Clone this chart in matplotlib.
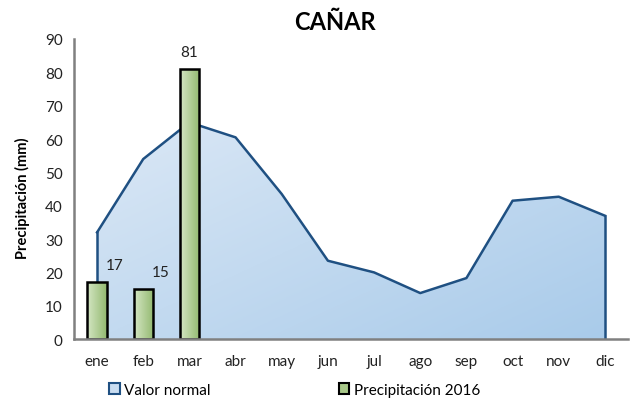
import numpy as np
import matplotlib.pyplot as plt
from matplotlib.patches import Patch, Polygon, Rectangle
from matplotlib.colors import LinearSegmentedColormap

plt.rcParams['font.family'] = ['Lato', 'DejaVu Sans']

# data
meses = ['ene', 'feb', 'mar', 'abr', 'may', 'jun', 'jul', 'ago', 'sep', 'oct', 'nov', 'dic']
valor_normal = [32, 54, 65, 60.5, 43.5, 23.5, 20, 13.8, 18.3, 41.5, 42.7, 37]
precip_2016 = [17, 15, 81]

fig = plt.figure(figsize=(6.35, 4.02), dpi=100)
ax = fig.add_axes([0.1165, 0.154, 0.8725, 0.7465])

x = np.arange(len(meses))

# area with gradient fill
verts = [(x[0], 0)] + list(zip(x, valor_normal)) + [(x[-1], 0)]
poly = Polygon(verts, closed=True, facecolor='none', edgecolor='none')
ax.add_patch(poly)
blues = LinearSegmentedColormap.from_list('b', ['#dde9f6', '#a9cbea'])
gx, gy = np.meshgrid(np.linspace(0, 1, 200), np.linspace(0, 1, 200))
grad = gx * 0.5 + gy * 0.5
im = ax.imshow(grad, cmap=blues, extent=[x[0], x[-1], 0, 70], origin='upper',
               aspect='auto', zorder=1)
im.set_clip_path(poly)
ax.plot(x, valor_normal, color='#1f5082', lw=1.8, zorder=2)
ax.plot([x[0], x[0]], [0, valor_normal[0]], color='#1f5082', lw=1.8, zorder=2)
ax.plot([x[-1], x[-1]], [0, valor_normal[-1]], color='#1f5082', lw=1.8, zorder=2)

# bars with horizontal gradient
greens = LinearSegmentedColormap.from_list('g', ['#d4e6c3', '#93b970'])
w = 0.42
for i, v in enumerate(precip_2016):
    r = Rectangle((x[i] - w / 2, 0), w, v, facecolor='none', edgecolor='black', lw=1.8, zorder=4)
    ax.add_patch(r)
    bim = ax.imshow(np.linspace(0, 1, 50).reshape(1, -1), cmap=greens,
                    extent=[x[i] - w / 2, x[i] + w / 2, 0, v], aspect='auto', zorder=3)
    bim.set_clip_path(r)
    if i < 2:
        ax.text(x[i] + 0.38, v + 3, str(v), ha='center', va='bottom', fontsize=11, color='#222222')
    else:
        ax.text(x[i], v + 3, str(v), ha='center', va='bottom', fontsize=11, color='#222222')

ax.set_xlim(-0.5, 11.5)
ax.set_ylim(0, 90)
ax.set_yticks(range(0, 91, 10))
ax.set_xticks(x)
ax.set_xticklabels(meses)
ax.tick_params(axis='x', length=0, pad=11, labelsize=11, colors='#222222')
ax.tick_params(axis='y', length=0, pad=8, labelsize=11, colors='#222222')
for s in ['top', 'right']:
    ax.spines[s].set_visible(False)
for s in ['left', 'bottom']:
    ax.spines[s].set_color('#808080')
    ax.spines[s].set_linewidth(1.8)
ax.spines['bottom'].set_zorder(5)

fig.text(0.035, 0.507, 'Precipitación (mm)', rotation=90, ha='center', va='center',
         fontsize=10.5, fontweight='bold')
fig.text(0.527, 0.945, 'CAÑAR', ha='center', va='center', fontsize=17, fontweight='bold')

handles = [Patch(facecolor='#c9ddf1', edgecolor='#1f5082', lw=1.5, label='Valor normal'),
           Patch(facecolor='#a9c98a', edgecolor='black', lw=1.5, label='Precipitación 2016')]
fig.legend(handles=handles, loc='center left', bbox_to_anchor=(0.172, 0.027), ncol=2, frameon=False,
           fontsize=11, handlelength=0.7, handleheight=0.7, handletextpad=0.3, columnspacing=8.35,
           borderpad=0, borderaxespad=0)

fig.savefig('out.png', dpi=100)
